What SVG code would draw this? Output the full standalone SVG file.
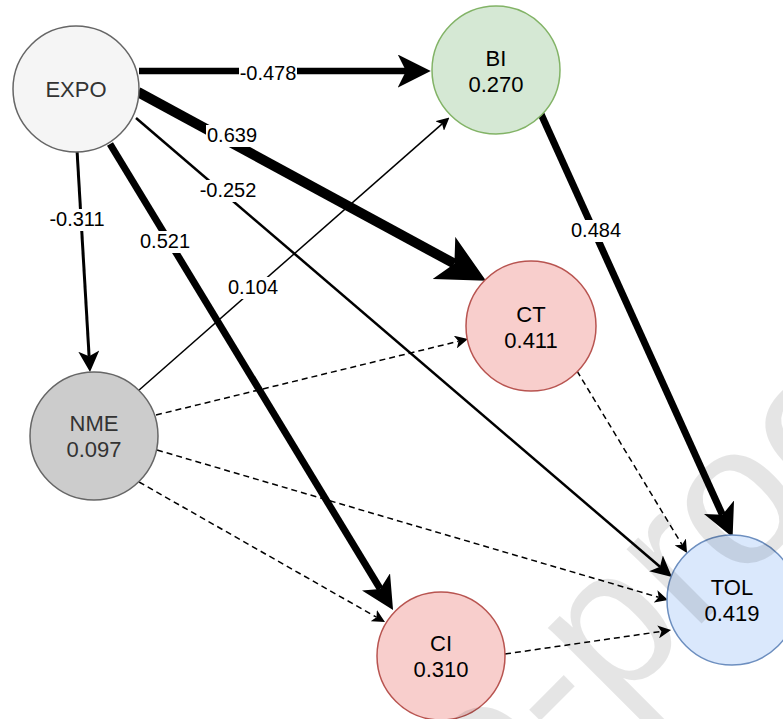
<svg xmlns="http://www.w3.org/2000/svg" width="783" height="719" viewBox="0 0 783 719">
<style>
  .node { stroke-width: 1.5; }
  .ntext { font-family: "Liberation Sans", Arial, sans-serif; font-size: 22px; text-anchor: middle; fill: #000000; }
  .grey { fill: #333333; }
  .edge { fill: none; stroke: #000000; }
  .dash { stroke-width: 1.5; stroke-dasharray: 6 4; }
  .elabel { font-family: "Liberation Sans", Arial, sans-serif; font-size: 20px; text-anchor: middle; fill: #000000; }
  .lbg { fill: #ffffff; }
  .wm { font-family: "Liberation Sans", Arial, sans-serif; font-size: 200px; fill: #000000; fill-opacity: 0.1; }
</style>
<defs>
  <marker id="ah-xl" viewBox="0 0 48 48" markerWidth="48" markerHeight="48" refX="12" refY="24" orient="auto" markerUnits="userSpaceOnUse"><path d="M0,0 L48,24 L0,48 L12,24 Z" fill="#000"/></marker>
  <marker id="ah-l" viewBox="0 0 33 33" markerWidth="33" markerHeight="33" refX="8.25" refY="16.5" orient="auto" markerUnits="userSpaceOnUse"><path d="M0,0 L33,16.5 L0,33 L8.25,16.5 Z" fill="#000"/></marker>
  <marker id="ah-m" viewBox="0 0 21 21" markerWidth="21" markerHeight="21" refX="5.25" refY="10.5" orient="auto" markerUnits="userSpaceOnUse"><path d="M0,0 L21,10.5 L0,21 L5.25,10.5 Z" fill="#000"/></marker>
  <marker id="ah-s" viewBox="0 0 13 13" markerWidth="13" markerHeight="13" refX="3.25" refY="6.5" orient="auto" markerUnits="userSpaceOnUse"><path d="M0,0 L13,6.5 L0,13 L3.25,6.5 Z" fill="#000"/></marker>
</defs>
<rect width="783" height="719" fill="#ffffff"/>

<g id="connectors">
  <path class="edge" d="M139,71 L406,71" stroke-width="6.5" marker-end="url(#ah-l)"/>
  <path class="edge" d="M138,92 L454.4,263.7" stroke-width="10" marker-end="url(#ah-xl)"/>
  <path class="edge" d="M136,118 L660,566.8" stroke-width="2.5" marker-end="url(#ah-m)"/>
  <path class="edge" d="M77,150 L89.1,356.3" stroke-width="3" marker-end="url(#ah-m)"/>
  <path class="edge" d="M110,144 L380.2,588.9" stroke-width="7" marker-end="url(#ah-l)"/>
  <path class="edge" d="M138,391 L442.1,123.9" stroke-width="1.5" marker-end="url(#ah-s)"/>
  <path class="edge dash" d="M156,415 L458.5,341.3" marker-end="url(#ah-s)"/>
  <path class="edge dash" d="M157,450 L658.7,597.3" marker-end="url(#ah-s)"/>
  <path class="edge dash" d="M139,482 L376.5,617.2" marker-end="url(#ah-s)"/>
  <path class="edge dash" d="M577,371 L682,544.7" stroke-dasharray="4 3" marker-end="url(#ah-s)"/>
  <path class="edge" d="M541,114 L722.4,514.8" stroke-width="7" marker-end="url(#ah-l)"/>
  <path class="edge dash" d="M505,654 L661.4,631.4" marker-end="url(#ah-s)"/>

  <rect class="lbg" x="239" y="63" width="58" height="22"/>
  <text class="elabel" x="268" y="80">-0.478</text>
  <rect class="lbg" x="206" y="125" width="52" height="22"/>
  <text class="elabel" x="232" y="142">0.639</text>
  <rect class="lbg" x="199" y="180" width="58" height="22"/>
  <text class="elabel" x="228" y="197">-0.252</text>
  <rect class="lbg" x="48" y="209" width="58" height="22"/>
  <text class="elabel" x="77" y="226">-0.311</text>
  <rect class="lbg" x="139" y="231" width="52" height="22"/>
  <text class="elabel" x="165" y="248">0.521</text>
  <rect class="lbg" x="227" y="277" width="52" height="22"/>
  <text class="elabel" x="253" y="294">0.104</text>
  <rect class="lbg" x="570" y="220" width="52" height="22"/>
  <text class="elabel" x="596" y="237">0.484</text>
</g>

<g id="EXPO">
  <circle class="node" cx="76" cy="89" r="63" fill="#f5f5f5" stroke="#666666"/>
  <text class="ntext grey" x="76" y="97">EXPO</text>
</g>
<g id="BI">
  <circle class="node" cx="496" cy="70" r="64" fill="#d5e8d4" stroke="#82b366"/>
  <text class="ntext" x="496" y="66">BI</text>
  <text class="ntext" x="496" y="92">0.270</text>
</g>
<g id="CT">
  <circle class="node" cx="531" cy="326" r="65" fill="#f8cecc" stroke="#b85450"/>
  <text class="ntext" x="531" y="322">CT</text>
  <text class="ntext" x="531" y="348">0.411</text>
</g>
<g id="NME">
  <circle class="node" cx="94" cy="436" r="64" fill="#cccccc" stroke="#666666"/>
  <text class="ntext grey" x="94" y="431">NME</text>
  <text class="ntext grey" x="94" y="457">0.097</text>
</g>
<g id="CI">
  <circle class="node" cx="441" cy="656" r="64" fill="#f8cecc" stroke="#b85450"/>
  <text class="ntext" x="441" y="651">CI</text>
  <text class="ntext" x="441" y="677">0.310</text>
</g>
<g id="TOL">
  <circle class="node" cx="732" cy="600" r="65" fill="#dae8fc" stroke="#6c8ebf"/>
  <text class="ntext" x="732" y="595">TOL</text>
  <text class="ntext" x="732" y="621">0.419</text>
</g>

<g id="watermark">
  <text class="wm" x="346" y="979" transform="rotate(-45 346 979)">Pre-proof</text>
</g>
</svg>
